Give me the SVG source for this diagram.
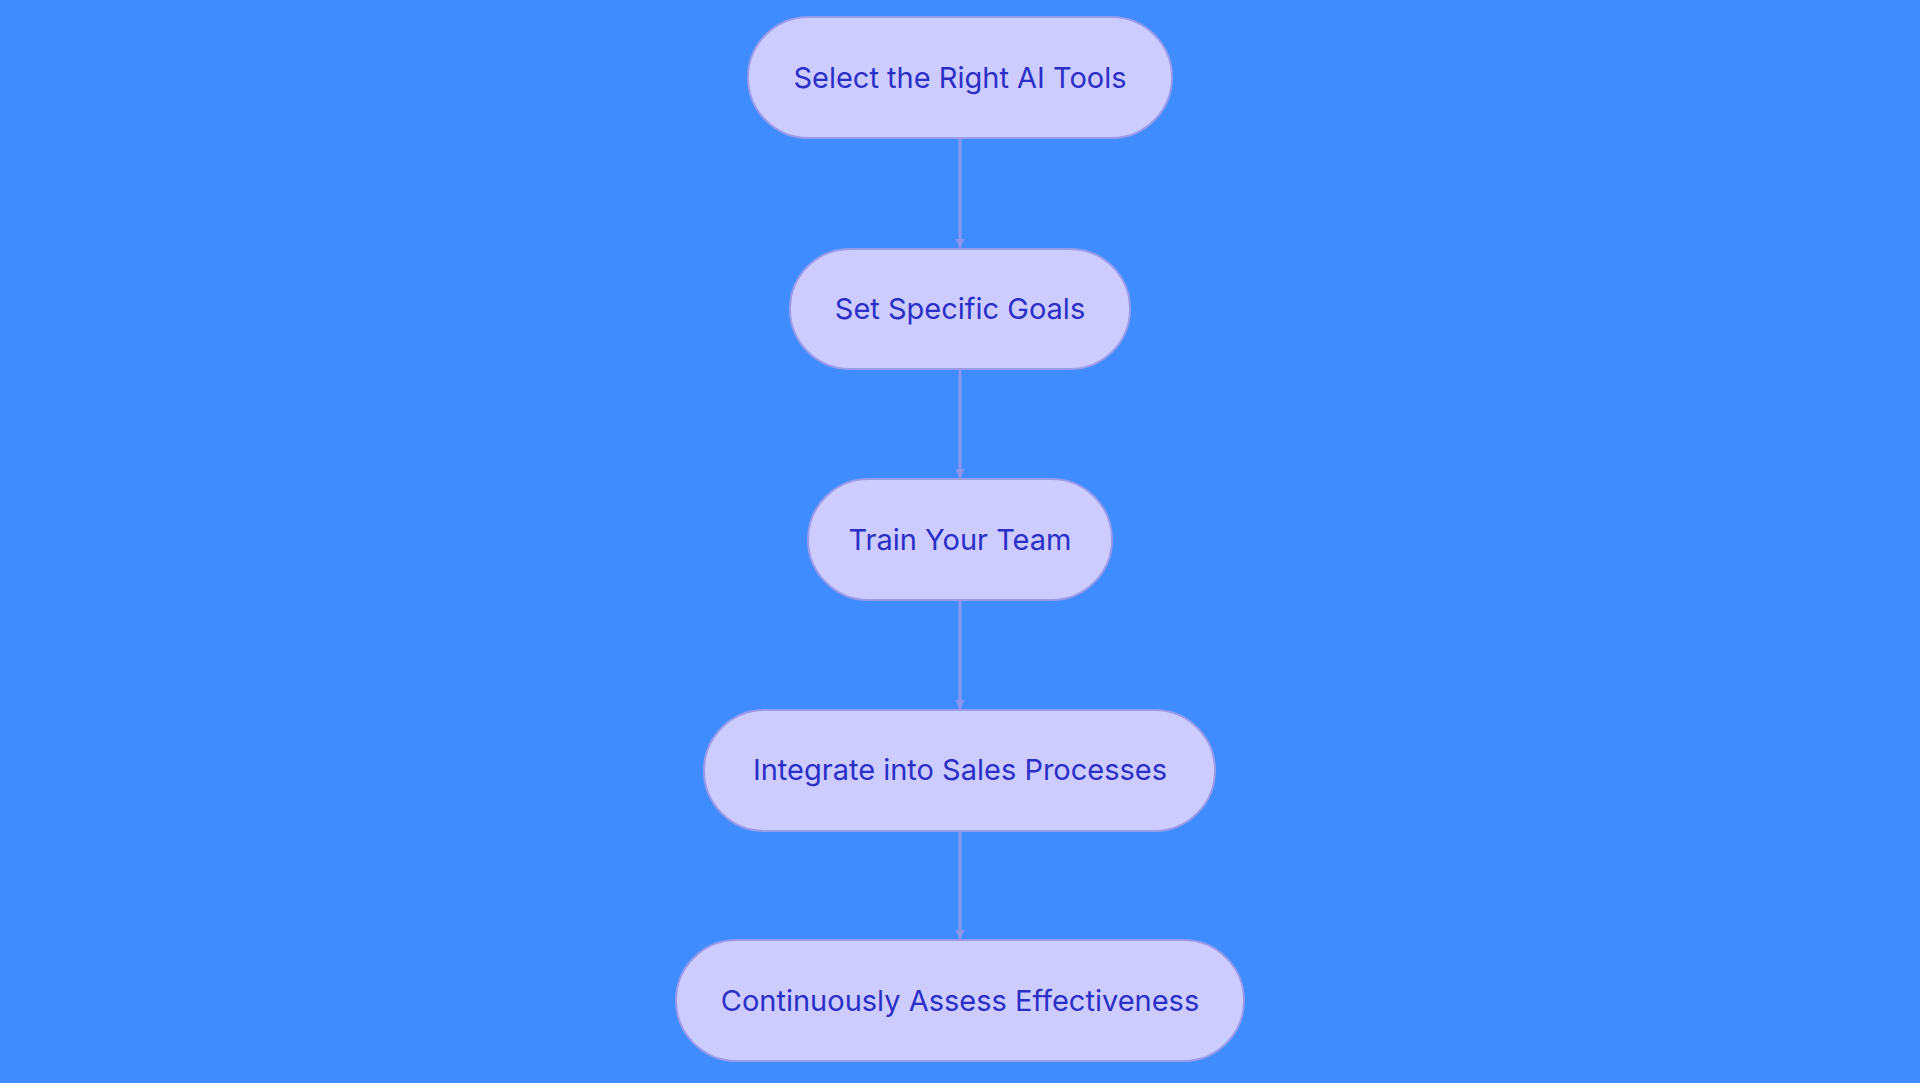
<svg xmlns="http://www.w3.org/2000/svg" width="1920" height="1083" viewBox="0 0 1920 1083">
<defs>
<style>
.n{fill:#ccccff;stroke:#9b9be8;stroke-width:2}
.t{font-family:Inter,"Open Sans",sans-serif;font-size:29px;fill:#2b2fc8;text-anchor:middle;dominant-baseline:central}
.e{stroke:#8f95e8;stroke-width:3;fill:none}
</style>
<marker id="a" viewBox="0 0 10 10" refX="10" refY="5" markerWidth="9" markerHeight="9" markerUnits="userSpaceOnUse" orient="auto"><path d="M0,0L10,5L0,10z" fill="#8f95e8"/></marker>
</defs>
<rect width="1920" height="1083" fill="#3f8cff"/>
<g id="connectors">
<line class="e" x1="960" y1="139" x2="960" y2="248" marker-end="url(#a)" style="stroke-width:3"/>
<line class="e" x1="960" y1="370" x2="960" y2="478" marker-end="url(#a)"/>
<line class="e" x1="960" y1="601" x2="960" y2="709" marker-end="url(#a)"/>
<line class="e" x1="960" y1="832" x2="960" y2="939" marker-end="url(#a)"/>
</g>
<g id="n1"><rect class="n" x="748" y="17" width="424" height="121" rx="60.5"/><text class="t" x="960" y="77">Select the Right AI Tools</text></g>
<g id="n2"><rect class="n" x="790" y="249" width="340" height="120" rx="60"/><text class="t" x="960" y="308">Set Specific Goals</text></g>
<g id="n3"><rect class="n" x="808" y="479" width="304" height="121" rx="60.5"/><text class="t" x="960" y="539">Train Your Team</text></g>
<g id="n4"><rect class="n" x="704" y="710" width="511" height="121" rx="60.5"/><text class="t" x="960" y="769">Integrate into Sales Processes</text></g>
<g id="n5"><rect class="n" x="676" y="940" width="568" height="121" rx="60.5"/><text class="t" x="960" y="1000">Continuously Assess Effectiveness</text></g>
</svg>
